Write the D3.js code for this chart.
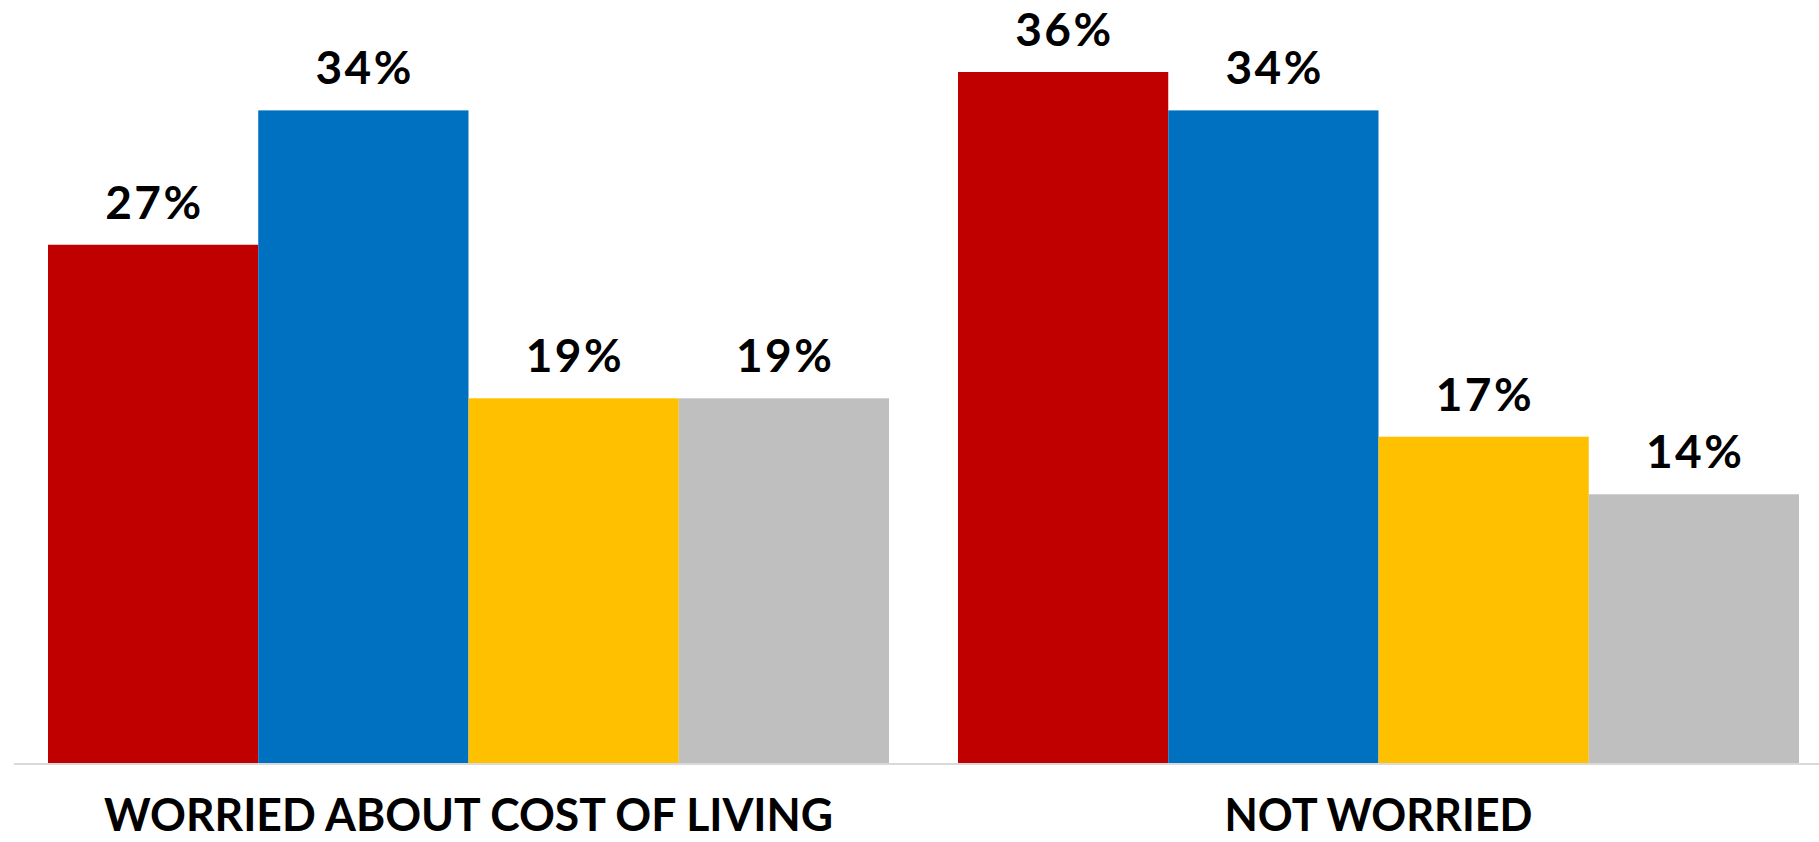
<!DOCTYPE html>
<html>
<head>
<meta charset="utf-8">
<script src="https://cdn.jsdelivr.net/npm/d3@7"></script>
<style>
  html, body { margin: 0; padding: 0; background: #ffffff; }
  svg { display: block; }
</style>
</head>
<body>
<div id="chart"></div>
<script>
const categories = ["WORRIED ABOUT COST OF LIVING", "NOT WORRIED"];
const seriesNames = ["Series 1", "Series 2", "Series 3", "Series 4"];
const series1 = [27, 36];
const series2 = [34, 34];
const series3 = [19, 17];
const series4 = [19, 14];
const seriesColors = ["#C00000", "#0070C0", "#FFC000", "#BFBFBF"];

const W = 1819, H = 842;
const allSeries = [series1, series2, series3, series4];
const data = categories.map((c, i) => ({
  category: c,
  values: seriesNames.map((s, j) => ({ series: s, value: allSeries[j][i], color: seriesColors[j] }))
}));

const svg = d3.select("#chart").append("svg").attr("width", W).attr("height", H);

const baseline = 763;
const x0 = d3.scaleBand().domain(categories).range([48, 1799]).paddingInner(69 / 910).paddingOuter(0);
const x1 = d3.scaleBand().domain(seriesNames).range([0, x0.bandwidth()]).padding(0);
const y = d3.scaleLinear().domain([0, 36]).range([baseline, 72]);

// axis line
svg.append("line")
  .attr("x1", 14).attr("x2", W)
  .attr("y1", baseline + 1).attr("y2", baseline + 1)
  .attr("stroke", "#D9D9D9").attr("stroke-width", 2);

const groups = svg.selectAll("g.grp").data(data).enter().append("g")
  .attr("class", "grp")
  .attr("transform", d => `translate(${x0(d.category)},0)`);

groups.selectAll("rect").data(d => d.values).enter().append("rect")
  .attr("x", d => x1(d.series))
  .attr("width", x1.bandwidth())
  .attr("y", d => y(d.value))
  .attr("height", d => baseline - y(d.value))
  .attr("fill", d => d.color);

groups.selectAll("text.val").data(d => d.values).enter().append("text")
  .attr("class", "val")
  .attr("x", d => x1(d.series) + x1.bandwidth() / 2)
  .attr("y", d => y(d.value) - 26)
  .attr("text-anchor", "middle")
  .attr("font-family", "Lato, 'Open Sans', sans-serif")
  .attr("font-weight", 700)
  .attr("font-size", 46)
  .attr("fill", "#000")
  .attr("textLength", 96)
  .attr("lengthAdjust", "spacing")
  .text(d => d.value + "%");

// category labels
svg.selectAll("text.cat").data(categories).enter().append("text")
  .attr("class", "cat")
  .attr("x", d => x0(d) + x0.bandwidth() / 2)
  .attr("y", 831)
  .attr("text-anchor", "middle")
  .attr("font-family", "Lato, 'Open Sans', sans-serif")
  .attr("font-weight", 700)
  .attr("font-size", 46)
  .attr("fill", "#000")
  .attr("textLength", (d, i) => i === 0 ? 729 : 308)
  .attr("lengthAdjust", "spacingAndGlyphs")
  .text(d => d);
</script>
</body>
</html>
